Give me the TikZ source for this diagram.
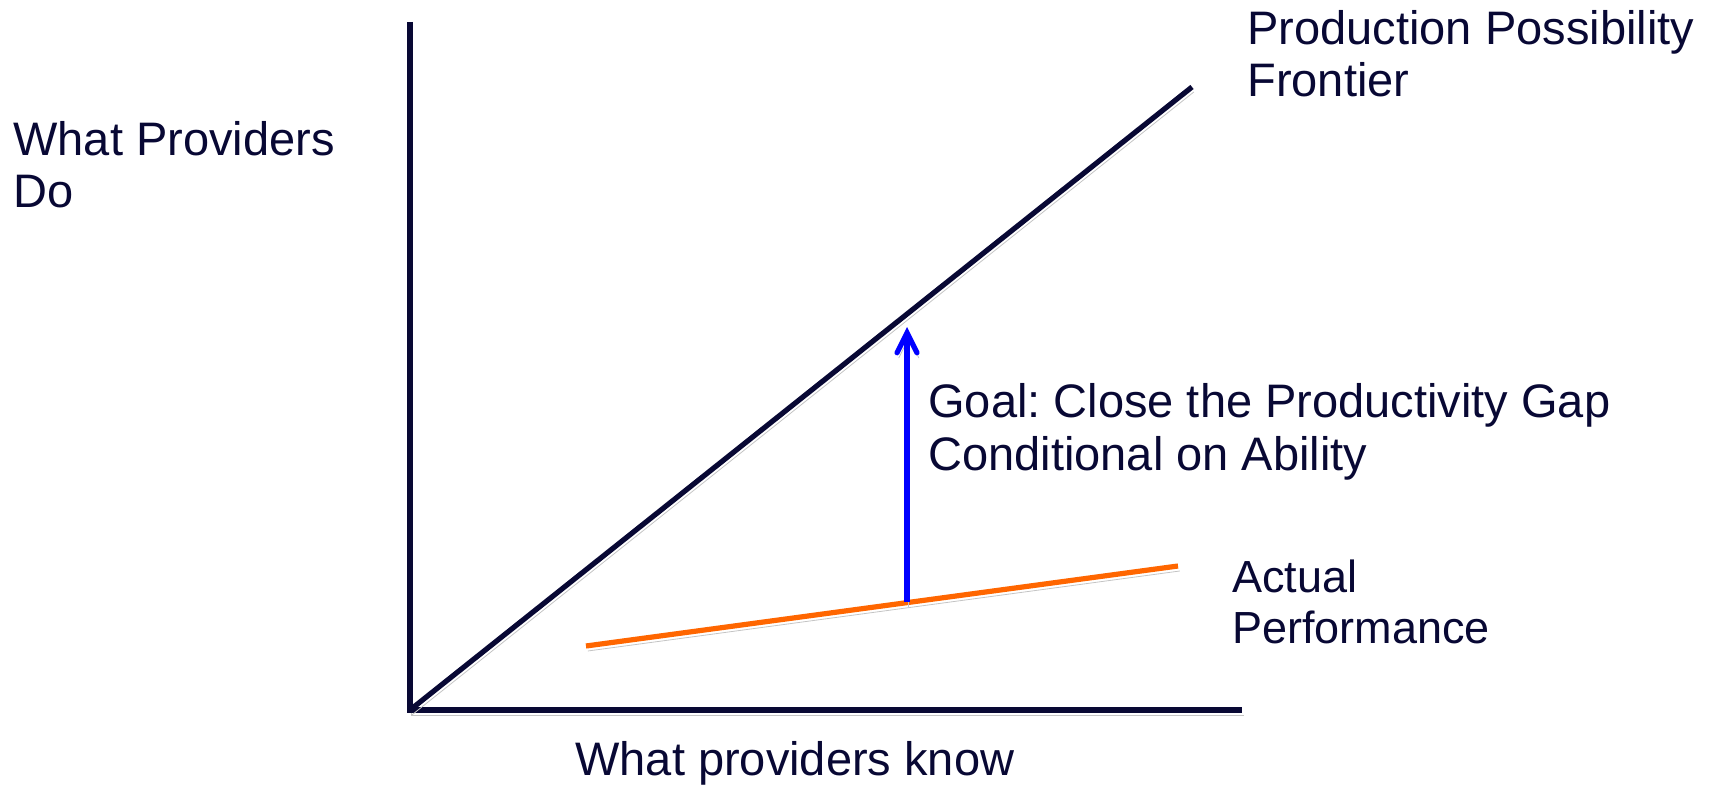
\documentclass[tikz,border=0pt]{standalone}
\usepackage{fontspec}
\setmainfont{Liberation Sans}
\usepackage{xcolor}
\usetikzlibrary{arrows.meta}
\frenchspacing

\definecolor{navy}{RGB}{8,8,52}
\definecolor{ppforange}{RGB}{255,102,0}
\definecolor{shadowgray}{RGB}{196,196,196}

\tikzset{
    shadowed/.style={preaction={draw=shadowgray, transform canvas={shift={(0.9pt,-2.5pt)}}}},
    axisline/.style={draw=navy, line width=3pt, shadowed},
    curve/.style={line width=2.6pt, shadowed},
    label/.style={inner sep=0pt, text=navy, align=left, anchor=base west,
        font=\fontsize{23.5}{26}\selectfont}
}

\begin{document}
\begin{tikzpicture}[x=0.5pt, y=-0.5pt]
    \useasboundingbox (0,0) rectangle (1721,792);

    % axes
    \coordinate (O) at (410,710);
    \coordinate (ytop) at (410,22);
    \coordinate (xend) at (1242,710);
    \draw[axisline] (ytop) -- (O) -- (xend);

    % frontier and actual performance
    \coordinate (ppf) at (1192,87);
    \draw[curve, draw=navy] (O) -- (ppf);
    \coordinate (actA) at (586,646);
    \coordinate (actB) at (1178,566);
    \draw[curve, draw=ppforange] (actA) -- (actB);

    % gap arrow
    \coordinate (gapfrom) at (907,602);
    \coordinate (gapto) at (907,327);
    \draw[curve, draw=blue, -{Straight Barb[length=10pt, width=10pt, line cap=round]}] (gapfrom) -- (gapto);

    % texts (base = baseline of the last line)
    \node[label] (ylab) at (13,207) {What Providers\\Do};
    \node[label] (xlab) at (575,775) {What providers know};
    \node[label] (ppflab) at (1247,97) {Production Possibility\\Frontier};
    \node[label, font=\fontsize{23.5}{26.5}\selectfont] (goal) at (928,470) {Goal: Close the Productivity Gap\\Conditional on Ability};
    \node[label, font=\fontsize{22.5}{25.5}\selectfont] (actlab) at (1232,643) {Actual\\Performance};
\end{tikzpicture}
\end{document}
